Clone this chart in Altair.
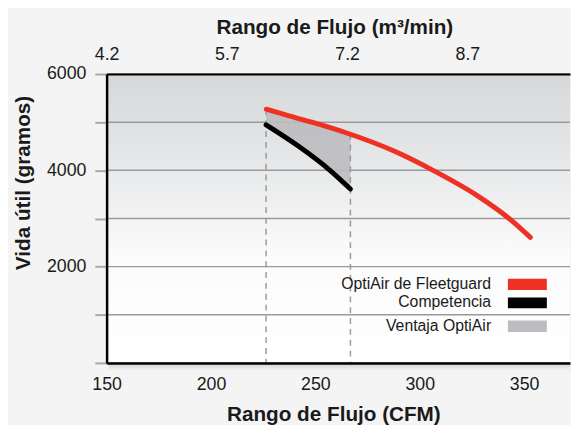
import altair as alt
import pandas as pd

# ---- data ----
red_cfm = [226.5, 237, 248.3, 264, 287.7, 306.6, 327, 342.8, 353]
red_life = [5270, 5135, 5000, 4790, 4400, 3995, 3490, 3000, 2607]
black_cfm = [226.4, 242, 257, 266.8]
black_life = [4943, 4498, 4000, 3611]
adv_cfm = [226.4, 242, 257, 266.8]
adv_top = [5265, 5060, 4880, 4760]
adv_bottom = [4943, 4498, 4000, 3611]
marker_cfm = [226.4, 266.8]
marker_top = [5265, 4760]
cfm_ticks = [150, 200, 250, 300, 350]
m3_ticks = [4.2, 5.7, 7.2, 8.7]
life_ticks = [0, 1000, 2000, 3000, 4000, 5000, 6000]
legend_labels = ["OptiAir de Fleetguard", "Competencia", "Ventaja OptiAir"]
legend_colors = ["#ee3124", "#000000", "#bcbdc0"]

W, H = 470, 293
FONT = "Liberation Sans"
TXT = "#1a1a1a"
BG = "#f3f4f3"

xscale = alt.Scale(domain=[150, 372], nice=False, zero=False)
yscale = alt.Scale(domain=[0, 6000], nice=False, zero=False)

red_df = pd.DataFrame({"cfm": red_cfm, "life": red_life})
black_df = pd.DataFrame({"cfm": black_cfm, "life": black_life})
adv_df = pd.DataFrame({"cfm": adv_cfm, "top": adv_top, "bottom": adv_bottom})
mark_df = pd.DataFrame({"cfm": marker_cfm, "top": marker_top})
grid_df = pd.DataFrame({"life": life_ticks})
m3_df = pd.DataFrame({"m3": m3_ticks})
one = pd.DataFrame({"a": [0]})

bg = alt.Chart(one).mark_rect(
    color=alt.LinearGradient(
        gradient="linear",
        stops=[
            alt.GradientStop(color="#d6d7d9", offset=0),
            alt.GradientStop(color="#e9eaeb", offset=0.35),
            alt.GradientStop(color="#fbfbfb", offset=0.62),
            alt.GradientStop(color="#ffffff", offset=1),
        ],
        x1=0, x2=0, y1=0, y2=1,
    )
).encode(x=alt.value(0), x2=alt.value(W), y=alt.value(0), y2=alt.value(H))

shadow = alt.Chart(one).mark_rect(
    color=alt.LinearGradient(
        gradient="linear",
        stops=[
            alt.GradientStop(color="#cfd0cf", offset=0),
            alt.GradientStop(color=BG, offset=1),
        ],
        x1=0, x2=0, y1=0, y2=1,
    )
).encode(x=alt.value(2), x2=alt.value(W), y=alt.value(H), y2=alt.value(H + 8))

y_axis = alt.Axis(
    values=life_ticks,
    labelExpr="(datum.value % 2000 == 0 && datum.value > 0) ? datum.label : ''",
    format="d",
    grid=False,
    ticks=True, tickSize=12, tickColor="#a8a8a8", tickWidth=2,
    domainColor="#000000", domainWidth=2.5,
    labelFont=FONT, labelFontSize=18, labelColor=TXT, labelPadding=9,
    title="Vida útil (gramos)", titleFont=FONT, titleFontSize=21,
    titleFontWeight="bold", titleColor=TXT,
    titleX=-84, titleY=110, titleAlign="center", titleBaseline="middle",
    titleAngle=270,
    zindex=1,
)

x_axis = alt.Axis(
    values=cfm_ticks, format="d", grid=False, ticks=False,
    domainColor="#000000", domainWidth=2.5, labelFlush=False,
    labelFont=FONT, labelFontSize=18, labelColor=TXT,
    labelBaseline="middle", labelPadding=22,
    title="Rango de Flujo (CFM)", titleFont=FONT, titleFontSize=21,
    titleFontWeight="bold", titleColor=TXT,
    titleX=230, titleY=52, titleAlign="center", titleBaseline="middle",
    zindex=1,
)

X = alt.X("cfm:Q", scale=xscale, axis=x_axis)

grid = alt.Chart(grid_df).mark_rule(color="#9a9a9a", strokeWidth=1.5).encode(
    y=alt.Y("life:Q", scale=yscale, axis=y_axis)
)

area = alt.Chart(adv_df).mark_area(color="#bcbdc0", opacity=0.9).encode(
    x=X,
    y=alt.Y("top:Q", scale=yscale),
    y2="bottom:Q",
)

dashed = alt.Chart(mark_df).mark_rule(
    color="#9a9a9a", strokeWidth=1.5, strokeDash=[6, 5]
).encode(
    x=X,
    y=alt.Y("top:Q", scale=yscale),
    y2=alt.value(H),
)

red = alt.Chart(red_df).mark_line(
    color="#ee3124", strokeWidth=5, strokeCap="round", interpolate="monotone"
).encode(x=X, y=alt.Y("life:Q", scale=yscale))

black = alt.Chart(black_df).mark_line(
    color="#000000", strokeWidth=5, strokeCap="round", interpolate="monotone"
).encode(x=X, y=alt.Y("life:Q", scale=yscale))

# legend (manual, symbols to the right of labels)
leg_text_y = [213.3, 231.6, 255.6]
leg_box_y = [(207.6, 219), (226.6, 237.6), (250, 261.6)]
legend_layers = []
for lab, col, ty, (b0, b1) in zip(legend_labels, legend_colors, leg_text_y, leg_box_y):
    legend_layers.append(
        alt.Chart(pd.DataFrame({"label": [lab]})).mark_text(
            align="right", baseline="middle", font=FONT, fontSize=16, color=TXT
        ).encode(text="label:N", x=alt.value(390), y=alt.value(ty))
    )
    legend_layers.append(
        alt.Chart(one).mark_rect(color=col).encode(
            x=alt.value(407), x2=alt.value(446.5), y=alt.value(b0), y2=alt.value(b1)
        )
    )

main = alt.layer(shadow, bg, grid, area, dashed, red, black, *legend_layers)

top_axis = alt.Chart(m3_df).mark_point(opacity=0).encode(
    x=alt.X(
        "m3:Q",
        scale=alt.Scale(domain=[4.2, 9.98], nice=False, zero=False),
        axis=alt.Axis(
            orient="top", values=m3_ticks, format=".1f", grid=False, ticks=False,
            domainColor="#000000", domainWidth=2, labelFlush=False,
            labelFont=FONT, labelFontSize=18, labelColor=TXT,
            labelBaseline="middle", labelPadding=20,
            title="Rango de Flujo (m³/min)", titleFont=FONT, titleFontSize=21,
            titleFontWeight="bold", titleColor=TXT,
            titleX=231, titleY=-47, titleAlign="center", titleBaseline="middle",
            zindex=1,
        ),
    ),
)

chart = (
    alt.layer(main, top_axis)
    .resolve_scale(x="independent")
    .properties(
        width=W, height=H,
        autosize=alt.AutoSizeParams(type="none"),
        padding={"left": 100, "top": 64, "right": 1, "bottom": 60},
        background=BG,
    )
    .configure_view(stroke=None)
)

chart.save("out.html", embed_options={"renderer": "svg", "actions": False})
